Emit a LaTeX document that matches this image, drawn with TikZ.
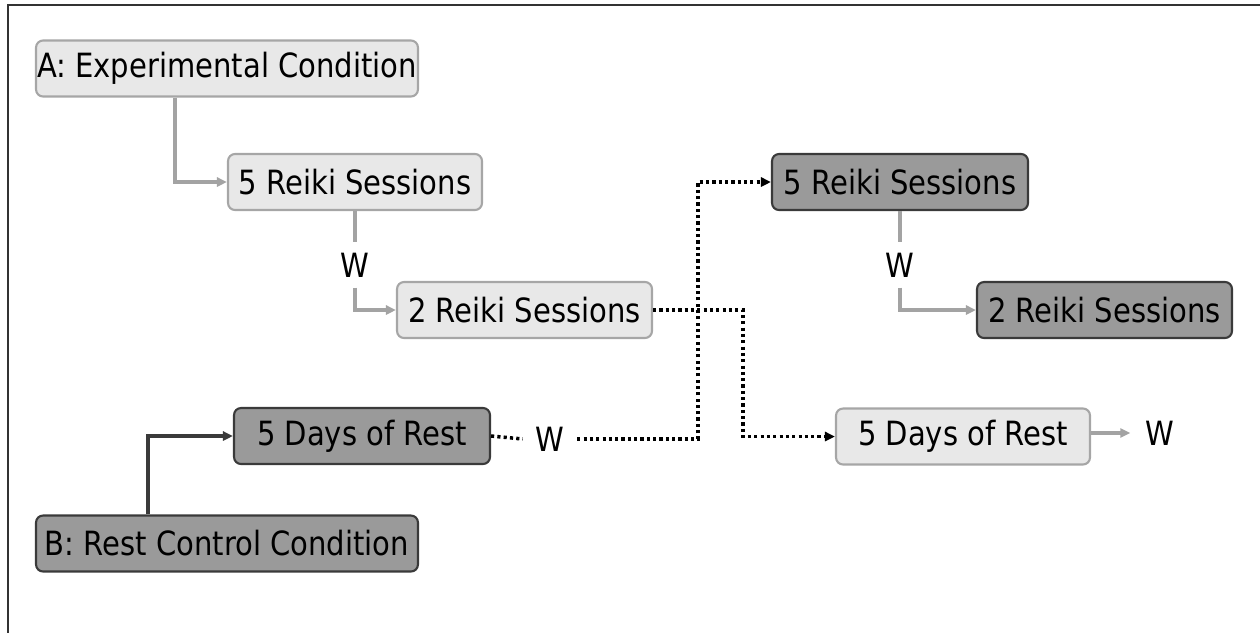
\documentclass[tikz,border=0pt]{standalone}
\usepackage{fontspec}
\setmainfont{DejaVu Sans}[FakeStretch=0.87]
\usetikzlibrary{arrows.meta}
\definecolor{lightfill}{HTML}{E8E8E8}
\definecolor{lightdraw}{HTML}{A6A6A6}
\definecolor{darkfill}{HTML}{9A9A9A}
\definecolor{darkdraw}{HTML}{3A3A3A}
\definecolor{garrowc}{HTML}{A3A3A3}
\tikzset{
  lightbox/.style={draw=lightdraw, fill=lightfill, line width=1.2pt, rounded corners=0.14cm, minimum height=1.12cm, inner sep=0pt, font=\fontsize{19}{23}\selectfont},
  darkbox/.style={draw=darkdraw, fill=darkfill, line width=1.2pt, rounded corners=0.14cm, minimum height=1.12cm, inner sep=0pt, font=\fontsize{19}{23}\selectfont},
  wlabel/.style={inner sep=0.2cm, font=\fontsize{19}{23}\selectfont},
  garrow/.style={draw=garrowc, line width=1.8pt, -{Triangle[length=0.2cm,width=0.18cm]}},
  gline/.style={draw=garrowc, line width=1.8pt},
  barrow/.style={draw=darkdraw, line width=2pt, -{Triangle[length=0.2cm,width=0.18cm]}},
  dotline/.style={draw=black, line width=2pt, dash pattern=on 1.8pt off 1.8pt},
  dotarrow/.style={dotline, -{Triangle[length=0.2cm,width=0.18cm]}},
  frameline/.style={draw=black!80, line width=1.2pt}
}
\begin{document}
\begin{tikzpicture}[x=0.02cm, y=-0.02cm]
\useasboundingbox (0,0) rectangle (1260,633);
\coordinate (tl) at (8,5);
\coordinate (tr) at (1260,5);
\coordinate (bl) at (8,633);
\draw[frameline] (tr) -- (tl) -- (bl);

\node[lightbox, minimum width=7.64cm] (A) at (227,68.5) {A: Experimental Condition};
\node[lightbox, minimum width=5.08cm] (R1) at (355,182) {5 Reiki Sessions};
\node[wlabel] (W1) at (355,265) {W};
\node[lightbox, minimum width=5.10cm] (R2) at (524.5,310) {2 Reiki Sessions};

\node[darkbox, minimum width=5.12cm] (R3) at (900,182) {5 Reiki Sessions};
\node[wlabel] (W2) at (900,265) {W};
\node[darkbox, minimum width=5.10cm] (R4) at (1104.5,310) {2 Reiki Sessions};

\node[darkbox, minimum width=5.12cm] (D1) at (362,436) {5 Days of Rest};
\node[wlabel, inner sep=0.25cm] (W3) at (550,439) {W};
\node[darkbox, minimum width=7.64cm] (B) at (227,543.5) {B: Rest Control Condition};

\node[lightbox, minimum width=5.08cm] (D2) at (963,436.5) {5 Days of Rest};
\node[wlabel, inner sep=0.3cm] (W4) at (1160,433) {W};

\coordinate (cA) at (175,0);
\coordinate (cB) at (148,0);
\coordinate (cX) at (698,0);
\coordinate (cY) at (743,0);

\draw[garrow] (cA |- A.south) |- (R1.west);
\draw[gline] (R1.south) -- (W1.north);
\draw[garrow] (W1.south) |- (R2.west);
\draw[gline] (R3.south) -- (W2.north);
\draw[garrow] (W2.south) |- (R4.west);

\draw[barrow] (cB |- B.north) |- (D1.west);

\draw[dotline] (D1.east) -- (W3.west);
\draw[dotarrow] (W3.east) -| (cX |- R3.west) -- (R3.west);
\draw[dotarrow] (R2.east) -| (cY |- D2.west) -- (D2.west);

\draw[garrow] (D2.east |- W4.west) -- (W4.west);
\end{tikzpicture}
\end{document}
